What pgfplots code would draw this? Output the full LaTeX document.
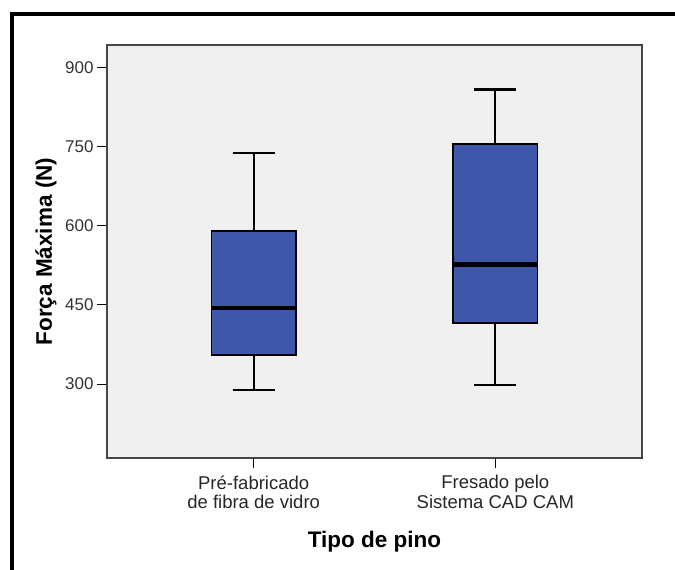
\documentclass[border=0pt]{standalone}
\usepackage{fontspec}
\setmainfont{Liberation Sans}
\usepackage{pgfplots}
\pgfplotsset{compat=1.18}
\usepgfplotslibrary{statistics}
\definecolor{boxblue}{RGB}{62,87,168}
\definecolor{plotbg}{RGB}{240,240,240}
\definecolor{axisgray}{RGB}{70,70,70}
\begin{document}
\begin{tikzpicture}
\path[use as bounding box] (0pt,0pt) rectangle (675pt,570pt);
\draw[line width=4.5pt] (12pt,-5pt) -- (12pt,556pt) -- (680pt,556pt);
\begin{axis}[
  at={(107pt,112pt)}, anchor=south west,
  scale only axis, width=535pt, height=413pt,
  xmin=0.393, xmax=2.607, ymin=160, ymax=942,
  axis background/.style={fill=plotbg},
  axis line style={axisgray, line width=1.4pt},
  xtick={1,2},
  xticklabels={{Pré-fabricado\\de fibra de vidro},{Fresado pelo\\Sistema CAD CAM}},
  ytick={300,450,600,750,900},
  tick pos=left,
  tick align=outside, major tick length=10pt,
  tick style={black, line width=1pt},
  x tick label style={align=center, font=\fontsize{18.5}{19.5}\selectfont, text=black!85, yshift=-4pt},
  y tick label style={font=\fontsize{17}{18}\selectfont, text=black!80},
  /pgf/number format/assume math mode=true,
  /pgf/number format/1000 sep={},
  xlabel={Tipo de pino}, ylabel={Força Máxima (N)},
  label style={font=\bfseries\fontsize{22.5}{26}\selectfont},
  xlabel style={at={(axis description cs:0.5,-0.2155)}, anchor=base},
  ylabel style={at={(axis description cs:-0.114,0.5)}, anchor=center},
  boxplot/draw direction=y,
]
\addplot+[mark=none, draw=black, line width=2.2pt, fill=boxblue,
  boxplot/every median/.style={line width=4.5pt, black},
  boxplot/every box/.style={fill=boxblue, draw=black, line width=1.5pt},
  boxplot prepared={
  median=443.8, upper quartile=589.6, lower quartile=354.9,
  upper whisker=737, lower whisker=288.6,
  draw position=1, box extend=0.35, whisker extend=0.175}]
  coordinates {};
\addplot+[mark=none, draw=black, line width=2.2pt, fill=boxblue,
  boxplot/every median/.style={line width=4.5pt, black},
  boxplot/every box/.style={fill=boxblue, draw=black, line width=1.5pt},
  boxplot prepared={
  median=526.5, upper quartile=754.3, lower quartile=416,
  upper whisker=857.8, lower whisker=297.6,
  draw position=2, box extend=0.35, whisker extend=0.175}]
  coordinates {};
\end{axis}
\end{tikzpicture}
\end{document}
